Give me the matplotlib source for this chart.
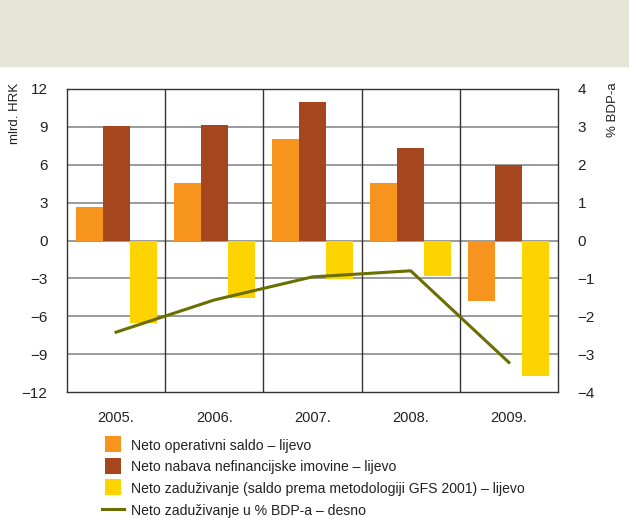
import matplotlib.pyplot as plt
import matplotlib.patches as mpatches
from matplotlib.lines import Line2D
import numpy as np

plt.rcParams['font.family'] = ['Liberation Sans', 'DejaVu Sans']

years = ['2005.', '2006.', '2007.', '2008.', '2009.']
operativni_saldo = [2.65, 4.55, 8.05, 4.55, -4.8]
nabava_imovine = [9.1, 9.15, 11.0, 7.3, 6.0]
zaduzivanje = [-6.5, -4.55, -3.05, -2.8, -10.75]
zaduzivanje_bdp = [-2.42, -1.57, -0.96, -0.80, -3.22]

labels = ['Neto operativni saldo – lijevo',
          'Neto nabava nefinancijske imovine – lijevo',
          'Neto zaduživanje (saldo prema metodologiji GFS 2001) – lijevo',
          'Neto zaduživanje u % BDP-a – desno']

c_orange = '#F7941D'
c_brown = '#A5461F'
c_yellow = '#FDD400'
c_line = '#6B6E00'
c_text = '#222222'

fig = plt.figure(figsize=(6.29, 5.18), dpi=100)
fig.patches.append(mpatches.Rectangle((0, 1 - 66 / 518), 1, 66 / 518,
                                      transform=fig.transFigure,
                                      color='#E5E5D5', zorder=0))

ax = fig.add_axes([67 / 629, 1 - 392 / 518, 491 / 629, 303 / 518])
x = np.arange(len(years))
w = 0.275
ax.bar(x - w, operativni_saldo, w, color=c_orange, zorder=3)
ax.bar(x, nabava_imovine, w, color=c_brown, zorder=3)
ax.bar(x + w, zaduzivanje, w, color=c_yellow, zorder=3)

ax.set_xlim(-0.5, 4.5)
ax.set_ylim(-12, 12)
ax.set_yticks(np.arange(-12, 13, 3))
ax.set_xticks(x)
ax.set_xticklabels(years)
for yv in np.arange(-9, 12, 3):
    ax.axhline(yv, color='#8a8a8a', lw=1.2, zorder=1)
for xv in [0.5, 1.5, 2.5, 3.5]:
    ax.axvline(xv, color='#333333', lw=1.0, zorder=1)
ax.tick_params(length=0, labelsize=11, colors=c_text, pad=14)
ax.tick_params(axis='x', pad=14, labelsize=10.5)
for s in ax.spines.values():
    s.set_color('#333333')
    s.set_linewidth(1.0)

ax2 = ax.twinx()
ax2.plot(x, zaduzivanje_bdp, color=c_line, lw=2.2, zorder=4)
ax2.set_ylim(-4, 4)
ax2.set_yticks(np.arange(-4, 5, 1))
ax2.tick_params(length=0, labelsize=11, colors=c_text, pad=14)
for s in ax2.spines.values():
    s.set_visible(False)

fig.text(15 / 629, 1 - 83 / 518, 'mlrd. HRK', rotation=90, ha='center',
         va='top', fontsize=9.5, color=c_text)
fig.text(613 / 629, 1 - 82 / 518, '% BDP-a', rotation=90, ha='center',
         va='top', fontsize=9.5, color=c_text)

handles = [Line2D([], [], ls='none', marker='s', ms=11, mew=0, color=c_orange),
           Line2D([], [], ls='none', marker='s', ms=11, mew=0, color=c_brown),
           Line2D([], [], ls='none', marker='s', ms=11, mew=0, color=c_yellow),
           Line2D([0], [0], color=c_line, lw=2.2)]
fig.legend(handles, labels, loc='upper left',
           bbox_to_anchor=(102 / 629, 1 - 438 / 518), frameon=False,
           fontsize=10.1, handlelength=1.55, handleheight=1.1,
           handletextpad=0.55, labelspacing=0.52, borderpad=0,
           borderaxespad=0, labelcolor=c_text)

fig.savefig('out.png', dpi=100)
